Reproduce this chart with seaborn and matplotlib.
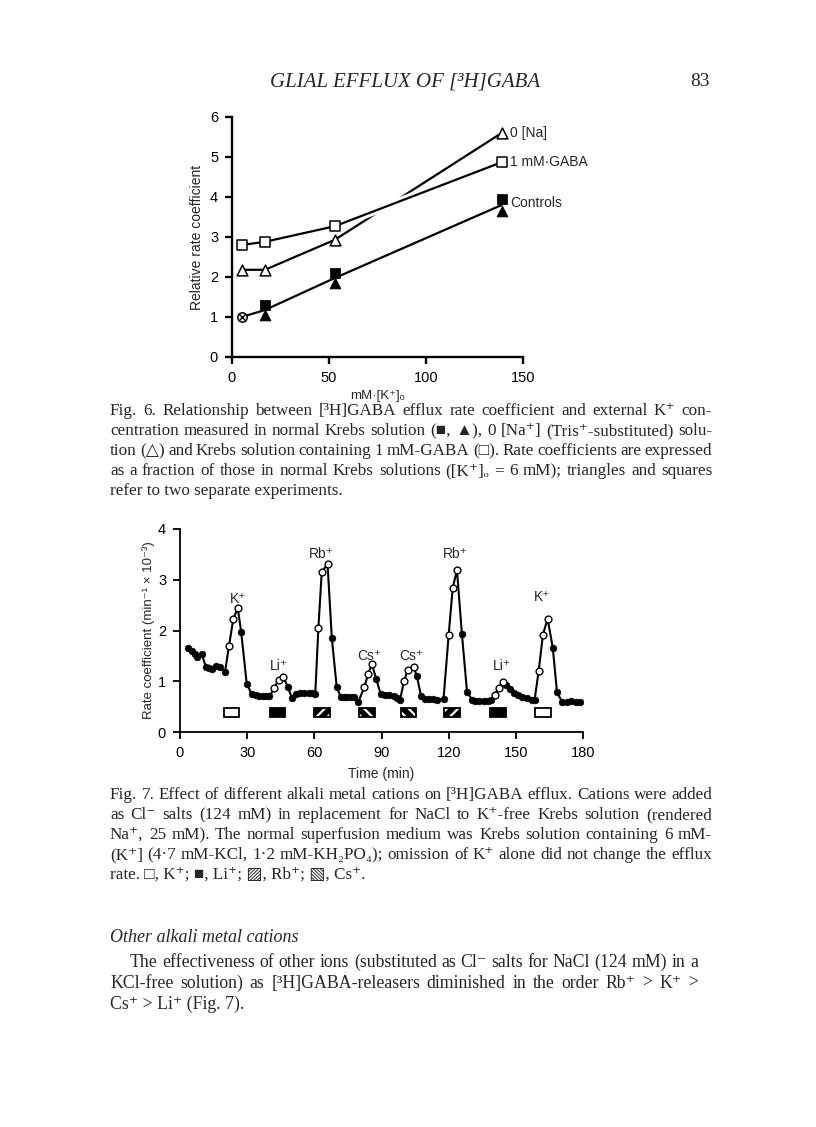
"""
Page 83 reproduction: Fig. 6 (relative rate coefficient vs [K+]) and
Fig. 7 ([3H]GABA efflux trace with alkali cation pulses), plus captions.
"""

import matplotlib
matplotlib.use("Agg")
import matplotlib.pyplot as plt
import matplotlib.patheffects as pe
import seaborn as sns
import pandas as pd

# ---- Fig. 6 data ----
k_conc = [5, 17, 53, 139]
gaba = [2.80, 2.88, 3.27, 4.87]
zero_na = [2.18, 2.18, 2.93, 5.60]
ctrl_sq = [1.0, 1.30, 2.10, 3.95]
ctrl_tri = [1.0, 1.05, 1.85, 3.65]

# ---- Fig. 7 data ----
base_t = [3.7, 5.5, 6.7, 7.7, 9.7, 11.5, 13.0, 14.2, 16.1, 17.9, 20.1,
          27.3, 29.8, 32.0, 33.8, 35.3, 36.9, 38.4, 39.9,
          48.1, 50.0, 51.9, 53.7, 55.6, 57.4, 59.0, 60.4,
          67.8, 70.0, 71.8, 73.3, 74.8, 76.3, 77.8, 79.7,
          87.6, 89.7, 91.7, 93.4, 95.4, 96.9, 98.3,
          105.8, 107.7, 109.5, 111.2, 113.0, 114.8, 117.7,
          125.9, 128.2, 130.4, 131.9, 133.7, 135.6, 137.6, 139.0,
          145.6, 147.5, 149.0, 150.8, 152.8, 155.0, 157.2, 158.4,
          166.5, 168.4, 170.6, 172.9, 174.8, 177.0, 178.8]
base_y = [1.65, 1.59, 1.54, 1.47, 1.54, 1.29, 1.26, 1.25, 1.31, 1.29, 1.18,
          1.98, 0.95, 0.75, 0.72, 0.70, 0.71, 0.71, 0.70,
          0.89, 0.67, 0.75, 0.77, 0.77, 0.77, 0.76, 0.74,
          1.86, 0.88, 0.69, 0.68, 0.68, 0.68, 0.68, 0.60,
          1.05, 0.74, 0.72, 0.72, 0.70, 0.67, 0.64,
          1.10, 0.70, 0.66, 0.65, 0.65, 0.64, 0.65,
          1.94, 0.79, 0.64, 0.62, 0.62, 0.62, 0.62, 0.64,
          0.93, 0.85, 0.77, 0.72, 0.69, 0.67, 0.64, 0.64,
          1.66, 0.78, 0.60, 0.60, 0.62, 0.60, 0.59]
test_t = [21.9, 23.8, 25.8, 42.2, 44.0, 46.2, 61.8, 63.3, 65.9,
          82.3, 84.0, 85.7, 100.1, 101.8, 104.3, 120.0, 121.8, 123.7,
          140.5, 142.3, 144.1, 160.2, 162.1, 164.2]
test_y = [1.70, 2.23, 2.44, 0.87, 1.03, 1.08, 2.04, 3.15, 3.31,
          0.88, 1.14, 1.34, 1.01, 1.23, 1.29, 1.91, 2.84, 3.19,
          0.72, 0.87, 0.98, 1.20, 1.92, 2.23]
ions = ["K", "Li", "Rb", "Cs", "Cs", "Rb", "Li", "K"]
ion_start = [19.5, 40, 60, 80, 98.5, 118, 138.5, 158.5]
ion_dur = [7, 7, 7, 7, 7, 7, 7, 7]
ion_label_x = [26, 44, 63.3, 84.6, 103.1, 123, 143.8, 161.7]
ion_label_y = [2.62, 1.30, 3.50, 1.49, 1.49, 3.50, 1.30, 2.66]

W, H = 816, 1127
SERIF = ["Liberation Serif", "DejaVu Serif", "DejaVu Sans"]
SANS = ["Liberation Sans", "DejaVu Sans"]

sns.set_style("ticks")
plt.rcParams["font.family"] = SANS
plt.rcParams["hatch.linewidth"] = 1.6

fig = plt.figure(figsize=(W / 100, H / 100), dpi=100)
renderer = fig.canvas.get_renderer()


def fx(x):
    return x / W


def fy(y):
    return 1 - y / H


def style_axes(ax, lw, size):
    sns.despine(ax=ax)
    for s in ("left", "bottom"):
        ax.spines[s].set_linewidth(lw)
        ax.spines[s].set_color("black")
    ax.tick_params(direction="out", length=5, width=lw, colors="black",
                   labelsize=size, pad=5)


# ================= Fig. 6 =================
ax6 = fig.add_axes([fx(232), fy(357), (523 - 232) / W, (357 - 117) / H])
ctrl = pd.DataFrame({"K": k_conc * 2, "rate": ctrl_sq + ctrl_tri})

sns.lineplot(x=k_conc, y=zero_na, ax=ax6, color="black", lw=1.6, zorder=2)
sns.lineplot(x=k_conc, y=gaba, ax=ax6, color="black", lw=1.6, zorder=3,
             path_effects=[pe.Stroke(linewidth=6, foreground="white"), pe.Normal()])
sns.lineplot(data=ctrl, x="K", y="rate", ax=ax6, color="black", lw=1.6,
             errorbar=None, zorder=2)
sns.scatterplot(x=k_conc, y=gaba, ax=ax6, marker="s", s=45, color="white",
                edgecolor="black", linewidth=1.1, zorder=4)
sns.scatterplot(x=k_conc, y=zero_na, ax=ax6, marker="^", s=60, color="white",
                edgecolor="black", linewidth=1.1, zorder=4)
sns.scatterplot(x=k_conc[1:], y=ctrl_tri[1:], ax=ax6, marker="^", s=60,
                color="black", edgecolor="black", zorder=4)
sns.scatterplot(x=k_conc[1:], y=ctrl_sq[1:], ax=ax6, marker="s", s=45,
                color="black", edgecolor="black", zorder=5)
sns.scatterplot(x=k_conc[:1], y=ctrl_sq[:1], ax=ax6, marker="o", s=45,
                color="white", edgecolor="black", linewidth=1.1, zorder=4)
sns.scatterplot(x=k_conc[:1], y=ctrl_sq[:1], ax=ax6, marker="x", s=22,
                color="black", linewidth=1.0, zorder=5)

ax6.set_xlim(0, 150)
ax6.set_ylim(0, 6)
ax6.set_xticks([0, 50, 100, 150])
ax6.set_yticks(range(7))
style_axes(ax6, 1.7, 10.5)
ax6.set_xlabel("mM·[K⁺]ₒ", fontsize=9.5, labelpad=4)
ax6.set_ylabel("Relative rate coefficient", fontsize=10, labelpad=4)
for label, yv in (("0 [Na]", zero_na[-1]), ("1 mM·GABA", gaba[-1]),
                  ("Controls", ctrl_sq[-1] - 0.1)):
    ax6.text(k_conc[-1] + 4.5, yv, label, fontsize=10, va="center",
             clip_on=False)

# ================= Fig. 7 =================
ax7 = fig.add_axes([fx(180), fy(732), (583 - 180) / W, (732 - 529) / H])
trace = pd.DataFrame({"t": base_t + test_t, "rate": base_y + test_y}).sort_values("t")

bars = pd.DataFrame({"ion": ions, "start": ion_start, "dur": ion_dur})
for _, b in bars.iterrows():
    face = {"K": "white", "Li": "black", "Rb": "black", "Cs": "black"}[b["ion"]]
    hatch = {"Rb": "///", "Cs": "\\\\\\"}.get(b["ion"])
    ax7.bar(b["start"], 0.18, width=b["dur"], bottom=0.29, align="edge",
            color=face, edgecolor="white" if hatch else face, hatch=hatch,
            linewidth=0)
    ax7.bar(b["start"], 0.18, width=b["dur"], bottom=0.29, align="edge",
            fill=False, edgecolor="black", linewidth=1.3)

sns.lineplot(data=trace, x="t", y="rate", ax=ax7, color="black", lw=1.5,
             errorbar=None, sort=True, zorder=2)
sns.scatterplot(x=base_t, y=base_y, ax=ax7, s=24, color="black",
                edgecolor="black", zorder=3)
sns.scatterplot(x=test_t, y=test_y, ax=ax7, s=24, color="white",
                edgecolor="black", linewidth=1.0, zorder=3)
for ion, lx, ly in zip(ions, ion_label_x, ion_label_y):
    ax7.text(lx, ly, ion + "⁺", fontsize=10, ha="center", va="center")

ax7.set_xlim(0, 180)
ax7.set_ylim(0, 4)
ax7.set_xticks(range(0, 181, 30))
ax7.set_yticks(range(5))
style_axes(ax7, 1.3, 10.5)
ax7.set_xlabel("Time (min)", fontsize=10, labelpad=5)
ax7.set_ylabel("Rate coefficient (min⁻¹ × 10⁻³)", fontsize=9.5, labelpad=2)


# ================= page text =================
def put_line(text, x0, x1, y, size, style="normal", justify=True):
    words = text.split(" ")
    if not justify or len(words) < 2:
        fig.text(fx(x0), fy(y), text, fontsize=size, family=SERIF,
                 style=style, va="baseline")
        return
    arts = [fig.text(0, 0, w, fontsize=size, family=SERIF, style=style,
                     va="baseline") for w in words]
    widths = [a.get_window_extent(renderer).width for a in arts]
    gap = (x1 - x0 - sum(widths)) / (len(words) - 1)
    x = x0
    for a, w in zip(arts, widths):
        a.set_position((fx(x), fy(y)))
        x += w + gap


def put_para(lines, x0, x1, y0, dy, size, indent=0):
    for i, line in enumerate(lines):
        last = i == len(lines) - 1
        put_line(line, x0 + (indent if i == 0 else 0), x1, y0 + i * dy,
                 size, justify=not last)


fig.text(fx(405), fy(86), "GLIAL EFFLUX OF [³H]GABA", family=SERIF,
         style="italic", fontsize=15, ha="center", va="baseline")
fig.text(fx(710), fy(86), "83", family=SERIF, fontsize=14, ha="right",
         va="baseline")

cap6 = [
    "Fig. 6. Relationship between [³H]GABA efflux rate coefficient and external K⁺ con-",
    "centration measured in normal Krebs solution (■, ▲), 0 [Na⁺] (Tris⁺-substituted) solu-",
    "tion (△) and Krebs solution containing 1 mM-GABA (□). Rate coefficients are expressed",
    "as a fraction of those in normal Krebs solutions ([K⁺]ₒ = 6 mM); triangles and squares",
    "refer to two separate experiments.",
]
put_para(cap6, 110, 712, 415, 20, 12.3)

cap7 = [
    "Fig. 7. Effect of different alkali metal cations on [³H]GABA efflux. Cations were added",
    "as Cl⁻ salts (124 mM) in replacement for NaCl to K⁺-free Krebs solution (rendered",
    "Na⁺, 25 mM). The normal superfusion medium was Krebs solution containing 6 mM-",
    "(K⁺] (4·7 mM-KCl, 1·2 mM-KH₂PO₄); omission of K⁺ alone did not change the efflux",
    "rate. □, K⁺; ■, Li⁺; ▨, Rb⁺; ▧, Cs⁺.",
]
put_para(cap7, 110, 712, 799, 20, 12.3)

put_line("Other alkali metal cations", 110, 712, 942, 13, style="italic",
         justify=False)
body = [
    "The effectiveness of other ions (substituted as Cl⁻ salts for NaCl (124 mM) in a",
    "KCl-free solution) as [³H]GABA-releasers diminished in the order Rb⁺ > K⁺ >",
    "Cs⁺ > Li⁺ (Fig. 7).",
]
put_para(body, 110, 698, 967, 21, 12.8, indent=20)

fig.savefig("out.png", dpi=100)
